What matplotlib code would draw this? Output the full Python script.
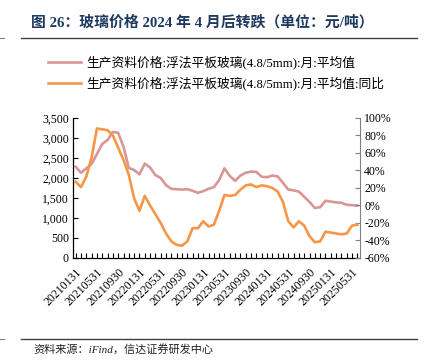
import matplotlib
matplotlib.use("Agg")
import matplotlib.pyplot as plt
from matplotlib.lines import Line2D
from matplotlib.ticker import FuncFormatter, MultipleLocator

plt.rcParams["font.family"] = ["Liberation Serif", "Noto Sans CJK SC"]

# monthly month-end dates, 2021-01 .. 2025-06
months = [f"{2021 + i // 12}{i % 12 + 1:02d}" for i in range(54)]
month_end = {"01": "31", "05": "31", "09": "30"}
tick_labels = [m + month_end[m[4:]] for m in months[::4]]

price = [2280, 2130, 2240, 2350, 2600, 2850, 2950, 3150, 3130, 2780,
         2250, 2200, 2090, 2360, 2260, 2070, 2000, 1820, 1730, 1720,
         1710, 1720, 1680, 1630, 1670, 1730, 1770, 1950, 2240, 2050,
         1930, 2060, 2130, 2160, 2150, 2030, 2020, 2060, 2040, 1880,
         1710, 1690, 1660, 1530, 1400, 1250, 1270, 1430, 1410, 1390,
         1380, 1330, 1320, 1310]
yoy = [27, 21, 33, 55, 88, 87, 86, 80, 66, 52,
       35, 8, -6, 11, 0, -10, -20, -32, -41, -45,
       -46, -41, -26, -26, -18, -24, -22, -6, 12, 11,
       12, 18, 23, 24, 21, 23, 22, 20, 16, 4,
       -18, -25, -18, -23, -35, -42, -41, -30, -31, -32,
       -33, -32, -23, -22]

label_price = "生产资料价格:浮法平板玻璃(4.8/5mm):月:平均值"
label_yoy = "生产资料价格:浮法平板玻璃(4.8/5mm):月:平均值:同比"
title = "图 26：玻璃价格 2024 年 4 月后转跌（单位：元/吨）"
source = "资料来源：iFind，信达证券研发中心"

PINK = "#d99694"
ORANGE = "#f79646"


def main() -> None:
    fig = plt.figure(figsize=(4.24, 3.63), dpi=100)
    ax = fig.add_axes([0.1722, 0.2893, 0.6769, 0.3857])
    ax2 = ax.twinx()

    x = list(range(len(months)))
    ax.plot(x, price, color=PINK, lw=1.9, solid_joinstyle="round")
    ax2.plot(x, yoy, color=ORANGE, lw=1.9, solid_joinstyle="round")

    ax.set_xlim(-0.5, len(months) - 0.5)
    ax.set_ylim(0, 3500)
    ax2.set_ylim(-60, 100)
    ax.yaxis.set_major_locator(MultipleLocator(500))
    ax.yaxis.set_major_formatter(FuncFormatter(lambda v, p: f"{int(v):,}"))
    ax2.yaxis.set_major_locator(MultipleLocator(20))
    ax2.yaxis.set_major_formatter(FuncFormatter(lambda v, p: f"{int(v)}%"))

    ax.set_xticks(x)
    ax.set_xticklabels([tick_labels[i // 4] if i % 4 == 0 else "" for i in x],
                       rotation=45, ha="right", rotation_mode="anchor")
    ax.tick_params(axis="x", direction="in", length=3.5, width=0.8, pad=6, labelsize=8.5)
    ax.tick_params(axis="y", direction="in", length=3.5, width=0.8, labelsize=8.5, pad=3)
    ax2.tick_params(axis="y", direction="in", length=3.5, width=0.8, labelsize=8.5,
                    pad=3, color="#808080")

    for a in (ax, ax2):
        a.spines["top"].set_visible(False)
    ax2.spines["left"].set_visible(False)
    ax2.spines["bottom"].set_visible(False)
    ax2.spines["right"].set_color("#808080")
    for s in ("left", "bottom"):
        ax.spines[s].set_linewidth(0.9)
    ax.spines["right"].set_visible(False)

    # header and footer
    fig.text(0.073, 0.939, title, fontsize=10.7, fontweight="bold", color="#1f3a60",
             va="center", ha="left")
    fig.add_artist(Line2D([21 / 424, 417 / 424], [1 - 37.7 / 363] * 2,
                          color="#404040", lw=1.0))
    fig.add_artist(Line2D([21 / 424, 417 / 424], [1 - 338.5 / 363] * 2,
                          color="#404040", lw=1.0))
    fig.add_artist(Line2D([0, 4 / 424], [1 - 37.7 / 363] * 2, color="#808080", lw=0.8))
    fig.add_artist(Line2D([0, 4 / 424], [1 - 338.5 / 363] * 2, color="#808080", lw=0.8))
    fig.text(0.078, 1 - 349.5 / 363, source, fontsize=8, style="italic", color="#222222",
             va="center", ha="left")

    handles = [Line2D([], [], color=PINK, lw=1.9), Line2D([], [], color=ORANGE, lw=1.9)]
    fig.legend(handles, [label_price, label_yoy], loc="upper left",
               bbox_to_anchor=(47.7 / 424, 1 - 55.5 / 363), frameon=False,
               fontsize=9.2, handlelength=2.6, handletextpad=0.45, labelspacing=0.55,
               borderpad=0, borderaxespad=0)

    fig.savefig("out.png", dpi=100)
    plt.close(fig)


if __name__ == "__main__":
    main()
